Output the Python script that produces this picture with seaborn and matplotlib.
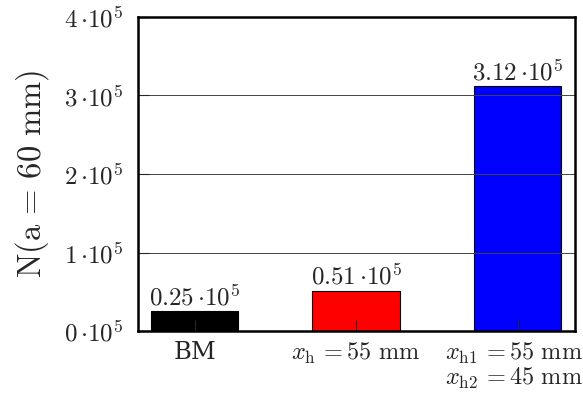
import matplotlib
matplotlib.use("Agg")
import matplotlib.pyplot as plt
import matplotlib.transforms as mtransforms
import seaborn as sns
import pandas as pd
from matplotlib.ticker import FixedLocator, FuncFormatter

categories = ["BM", "xh", "xh12"]
tick_labels = [r"BM",
               r"$x_\mathrm{h}\,{=}55\ \mathrm{mm}$",
               "$x_\\mathrm{h1}\\,{=}55\\ \\mathrm{mm}$\n$x_\\mathrm{h2}\\,{=}45\\ \\mathrm{mm}$"]
values = [0.25e5, 0.51e5, 3.12e5]
value_labels = [r"$0.25\,{\cdot}10^{5}$", r"$0.51\,{\cdot}10^{5}$", r"$3.12\,{\cdot}10^{5}$"]
colors = ["#000000", "#ff0000", "#0000ff"]
yticks = [0, 1e5, 2e5, 3e5, 4e5]

sns.set_style("white")
plt.rcParams["mathtext.fontset"] = "cm"
plt.rcParams["font.family"] = ["DejaVu Serif"]

df = pd.DataFrame({"cat": categories, "val": values})

fig = plt.figure(figsize=(5.83, 4.01), dpi=100)
ax = fig.add_axes([138/583, 1-331/401, (575-138)/583, (331-17)/401])

sns.barplot(data=df, x="cat", y="val", hue="cat", palette=colors, legend=False,
            saturation=1, width=0.54, edgecolor="black", linewidth=0.8, ax=ax, zorder=1)

ax.set_xlim(-0.35, 2.355)
ax.set_ylim(0, 4e5)
ax.yaxis.set_major_locator(FixedLocator(yticks))
ax.yaxis.set_major_formatter(FuncFormatter(lambda v, p: r"$%d\,{\cdot}10^{5}$" % round(v/1e5)))
ax.set_xticks(range(len(categories)))
ax.set_xticklabels(tick_labels, fontsize=17.5)
ax.tick_params(axis="y", labelsize=18, direction="in", length=8, width=0.8, pad=11, left=True)
ax.tick_params(axis="x", direction="in", length=8, width=0.8, pad=7, bottom=True)
for lab in ax.get_xticklabels():
    lab.set_linespacing(1.0)
last = ax.get_xticklabels()[-1]
last.set_transform(last.get_transform() + mtransforms.ScaledTranslation(-4/100, 0, fig.dpi_scale_trans))

ax.set_axisbelow(False)
ax.grid(axis="y", color="#444444", linewidth=0.7, zorder=3)
for gl in ax.get_ygridlines():
    gl.set_zorder(3)

for sp in ax.spines.values():
    sp.set_linewidth(1.8)
    sp.set_color("black")
    sp.set_zorder(5)

for i, (v, lab) in enumerate(zip(values, value_labels)):
    ax.annotate(lab, xy=(i, v), xytext=(0, 4.5), textcoords="offset points",
                ha="center", va="baseline", fontsize=18)

ax.set_xlabel("")
ax.set_ylabel(r"$\mathrm{N(a}\,=\,\mathrm{60\ mm)}$", fontsize=23.5, labelpad=9)

fig.savefig("out.png", dpi=100)
